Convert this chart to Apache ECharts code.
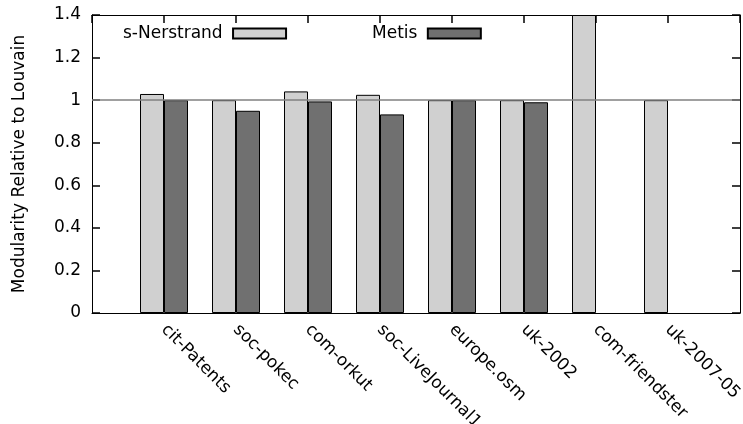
<!DOCTYPE html>
<html>
<head>
<meta charset="utf-8">
<script src="https://cdn.jsdelivr.net/npm/echarts@6/dist/echarts.min.js"></script>
<style>
  html, body { margin: 0; padding: 0; background: #fff; }
  #chart { width: 743px; height: 424px; }
</style>
</head>
<body>
<div id="chart"></div>
<script>
// Graph data sets
const categories = ['cit-Patents', 'soc-pokec', 'com-orkut', 'soc-LiveJournal1', 'europe.osm', 'uk-2002', 'com-friendster', 'uk-2007-05'];
// Modularity of each method divided by the Louvain modularity
const nerstrand = [1.029, 1.0, 1.041, 1.025, 1.0, 1.0, 1.4, 1.0];
const metis = [1.0, 0.95, 0.994, 0.933, 1.0, 0.99, null, null];
const yTicks = { min: 0, max: 1.4, step: 0.2 };

// Empty slot on each side so the groups sit on the tick positions
const axisCats = [''].concat(categories, ['']);
const pad = arr => [null].concat(arr, [null]);

const FONT = 'DejaVu Sans';
// Frame lines on all four sides, ticks pointing into the plot
const frameLine = () => ({ show: true, onZero: false, lineStyle: { color: '#000', width: 1 } });
const innerTick = () => ({ show: true, inside: true, length: 8, lineStyle: { color: '#000', width: 1.5 } });

const chart = echarts.init(document.getElementById('chart'), null, { renderer: 'canvas' });

chart.setOption({
  animation: false,
  backgroundColor: '#ffffff',
  textStyle: { fontFamily: FONT, color: '#000' },
  grid: {
    left: 92, right: 3, top: 15, bottom: 111,
    outerBoundsMode: 'none', containLabel: false
  },
  legend: {
    left: 118, top: 20,
    align: 'right',
    icon: 'rect',
    itemWidth: 53, itemHeight: 10, itemGap: 85,
    selectedMode: false,
    formatter: name => name + ' ',
    textStyle: { fontFamily: FONT, fontSize: 17, color: '#000' },
    data: ['s-Nerstrand', 'Metis']
  },
  xAxis: [
    {
      type: 'category', data: axisCats, boundaryGap: false, position: 'bottom',
      axisLine: frameLine(),
      axisTick: { show: false },
      axisLabel: {
        interval: 0, rotate: -45, margin: 14,
        fontFamily: FONT, fontSize: 17, color: '#000'
      },
      splitLine: { show: false }
    },
    {
      type: 'category', data: axisCats, boundaryGap: false, position: 'top',
      axisLine: frameLine(),
      axisTick: Object.assign(innerTick(), { interval: 0 }),
      axisLabel: { show: false },
      splitLine: { show: false }
    }
  ],
  yAxis: [
    {
      type: 'value', min: yTicks.min, max: yTicks.max, interval: yTicks.step, position: 'left',
      name: 'Modularity Relative to Louvain', nameLocation: 'middle', nameGap: 64, nameRotate: 90,
      nameTextStyle: { fontFamily: FONT, fontSize: 17, color: '#000' },
      axisLine: frameLine(),
      axisTick: innerTick(),
      axisLabel: { margin: 11, fontFamily: FONT, fontSize: 17, color: '#000' },
      splitLine: { show: false }
    },
    {
      type: 'value', min: yTicks.min, max: yTicks.max, interval: yTicks.step, position: 'right',
      axisLine: frameLine(),
      axisTick: innerTick(),
      axisLabel: { show: false },
      splitLine: { show: false }
    }
  ],
  series: [
    {
      name: 's-Nerstrand', type: 'bar', xAxisIndex: 0, yAxisIndex: 0,
      data: pad(nerstrand),
      barWidth: 24, barGap: '0%',
      itemStyle: { color: '#d0d0d0', borderColor: '#000', borderWidth: 1 }
    },
    {
      name: 'Metis', type: 'bar', xAxisIndex: 0, yAxisIndex: 0,
      data: pad(metis),
      barWidth: 24, barGap: '0%',
      itemStyle: { color: '#707070', borderColor: '#000', borderWidth: 1 },
      markLine: {
        silent: true, symbol: 'none', label: { show: false },
        lineStyle: { color: '#808080', width: 1.5, type: 'solid' },
        data: [{ yAxis: 1 }]
      }
    }
  ]
});
</script>
</body>
</html>
